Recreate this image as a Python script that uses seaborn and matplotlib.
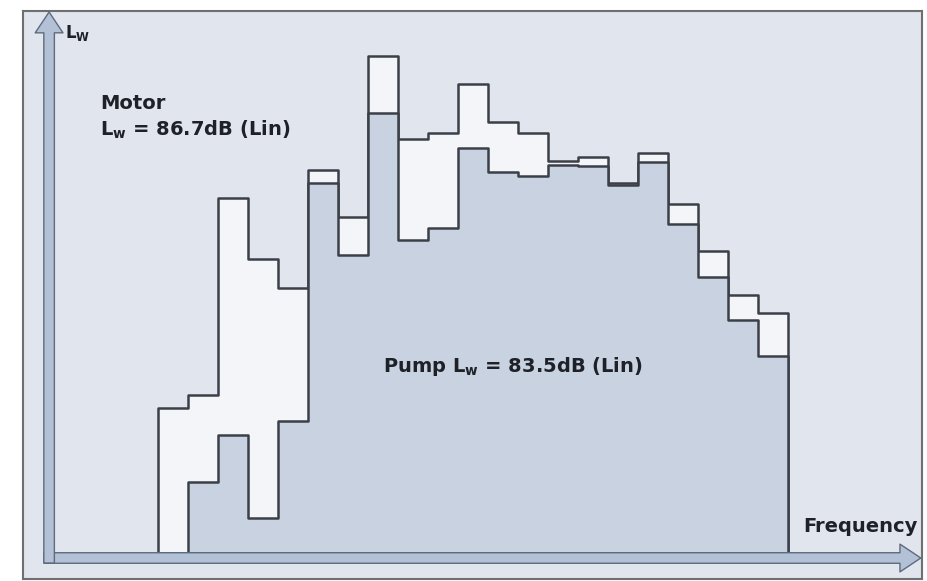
import numpy as np
import pandas as pd
import seaborn as sns
import matplotlib.pyplot as plt

# 1/3-octave bands (index only, no tick labels on the original)
bands = list(range(1, 22))
motor = [29.0, 31.6, 71.0, 58.8, 53.0, 76.6, 67.2, 99.4, 82.8, 84.0, 93.8,
         86.2, 84.0, 78.4, 79.2, 74.0, 80.0, 69.8, 60.4, 51.6, 48.0]
pump = [0.0, 14.2, 23.6, 7.0, 26.4, 74.0, 59.6, 88.0, 62.6, 65.0, 81.0,
        76.2, 75.4, 77.6, 77.4, 73.6, 78.2, 65.8, 55.2, 46.6, 39.4]

motor_label = "Motor\n$\\mathbf{L_w}$ = 86.7dB (Lin)"
pump_label = "Pump $\\mathbf{L_w}$ = 83.5dB (Lin)"

df = pd.DataFrame({'band': bands, 'motor': motor, 'pump': pump})
edges = [b - 0.5 for b in bands] + [bands[-1] + 0.5]

sns.set_style('white')
plt.rcParams['font.family'] = ['DejaVu Sans']

fig = plt.figure(figsize=(9.27, 5.81), dpi=100)
ax = fig.add_axes([23 / 927, 2 / 581, 899 / 927, 568 / 581])
ax.set_facecolor('#e1e5ee')

line_col = '#3b4048'
sns.histplot(df, x='band', weights='motor', bins=edges, element='step',
             fill=True, color='#f4f5f8', alpha=1, edgecolor=line_col,
             linewidth=1.8, ax=ax)
sns.histplot(df, x='band', weights='pump', bins=edges, element='step',
             fill=True, color='#c8d2e1', alpha=1, edgecolor=line_col,
             linewidth=1.8, ax=ax)

ax.set_xlim(-4.0, 25.97)
ax.set_ylim(-5.2, 108.4)
ax.set_xticks([])
ax.set_yticks([])
ax.set_xlabel('')
ax.set_ylabel('')
for s in ax.spines.values():
    s.set_color('#6f6f6f')
    s.set_linewidth(1.5)

# axis arrows
arrow = dict(arrowstyle='simple,head_width=1.0,head_length=0.75,tail_width=0.38',
             fc='#b2c1d5', ec='#5f6b7c', lw=1.0, mutation_scale=20,
             shrinkA=0, shrinkB=0)
ax.annotate('', xy=(25.93, -1.0), xytext=(-3.3, -1.0), arrowprops=arrow)
ax.annotate('', xy=(-3.13, 108.2), xytext=(-3.13, -2.0), arrowprops=arrow)

txt = dict(fontweight='bold', color='#1e2128', fontsize=14)
ax.text(-2.6, 104.0, '$\\mathbf{L_W}$', ha='left', va='center',
        fontweight='bold', color='#1e2128', fontsize=12)
ax.text(-1.43, 91.8, motor_label, ha='left', va='top', linespacing=1.35, **txt)
ax.text(8.0, 37.2, pump_label, ha='left', va='center', **txt)
ax.text(25.83, 5.4, 'Frequency', ha='right', va='center', **txt)

fig.savefig('out.png', dpi=100, facecolor='white')
